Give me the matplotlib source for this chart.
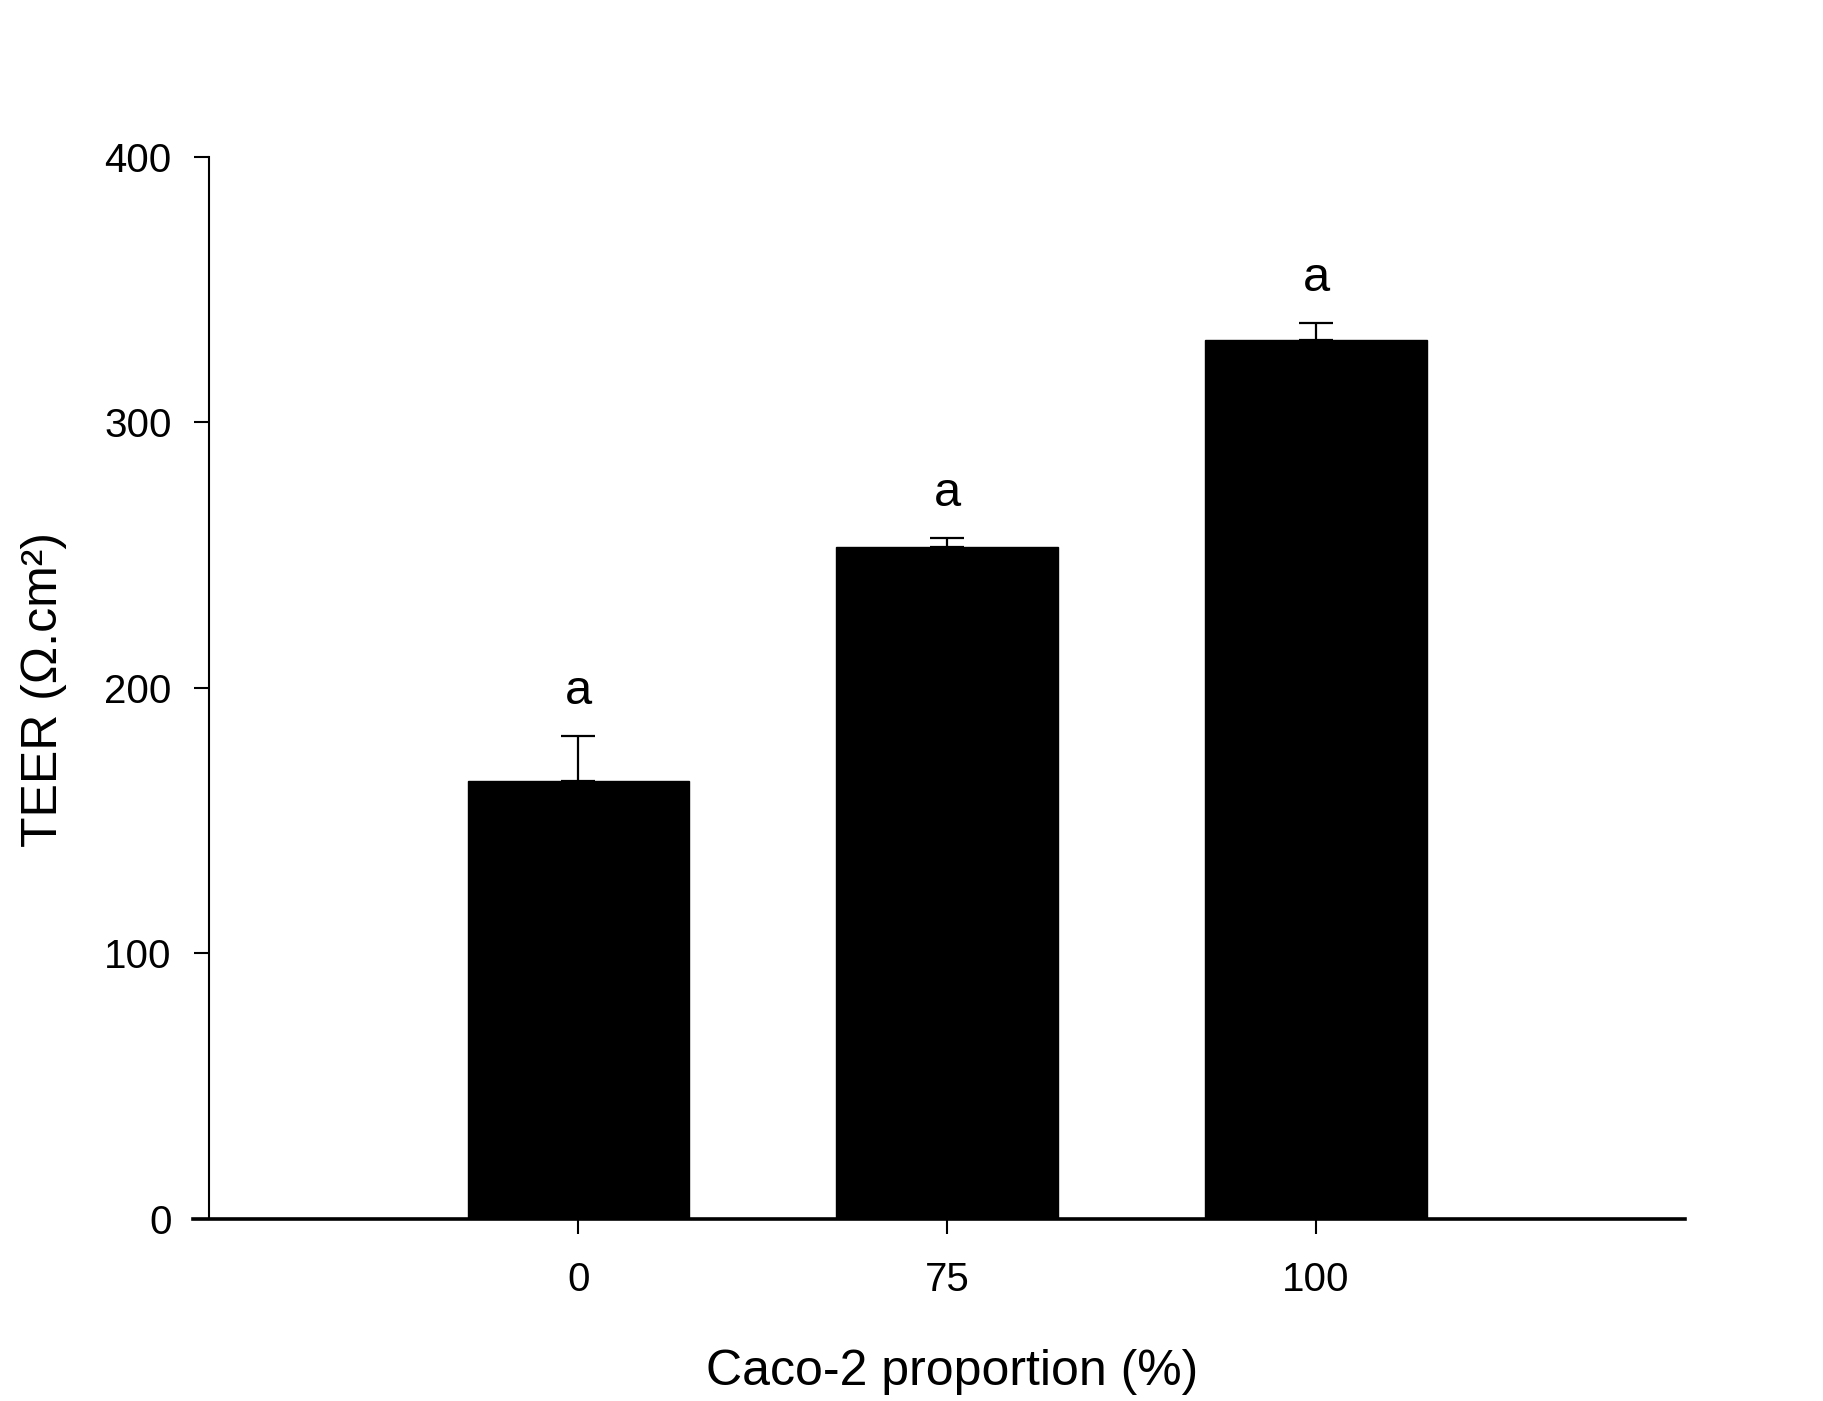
import matplotlib
matplotlib.use('Agg')
import matplotlib.pyplot as plt

plt.rcParams['font.family'] = ['Liberation Sans', 'DejaVu Sans']

# data
categories = ['0', '75', '100']
teer_mean = [165, 253, 331]
teer_sem = [17, 3.5, 6.5]
letters = ['a', 'a', 'a']

fig = plt.figure(figsize=(18.23, 14.01), dpi=100)
ax = fig.add_axes([0.1059, 0.1299, 0.8184, 0.7583])

x = list(range(len(categories)))
ax.bar(x, teer_mean, width=0.6, color='black', edgecolor='black', zorder=2)
ax.errorbar(x, teer_mean, yerr=[[0] * len(x), teer_sem], fmt='none',
            ecolor='black', elinewidth=1.6, capsize=12, capthick=1.6, zorder=3)

for xi, m, e, l in zip(x, teer_mean, teer_sem, letters):
    ax.text(xi, m + e + 16.5, l, ha='center', va='center', fontsize=35)

ax.set_xlim(-1.044, 3.0)
ax.set_ylim(0, 400)
ax.spines['top'].set_visible(False)
ax.spines['right'].set_visible(False)
ax.spines['left'].set_position(('data', -1))
ax.spines['left'].set_linewidth(1.5)
ax.spines['bottom'].set_linewidth(2.6)

ax.set_xticks(x)
ax.set_xticklabels(categories)
ax.set_yticks([0, 100, 200, 300, 400])
ax.tick_params(axis='y', direction='out', length=11, width=1.5, pad=16, labelsize=29)
ax.tick_params(axis='x', direction='out', length=11, width=1.5, pad=19, labelsize=29)

fig.text(952 / 1823, 1 - 1372 / 1401, 'Caco-2 proportion (%)', ha='center', va='center', fontsize=36)
fig.text(44 / 1823, 1 - 690 / 1401, 'TEER (\u03a9.cm\u00b2)', ha='center', va='center',
         rotation=90, fontsize=36)

plt.savefig('out.png', dpi=100)
